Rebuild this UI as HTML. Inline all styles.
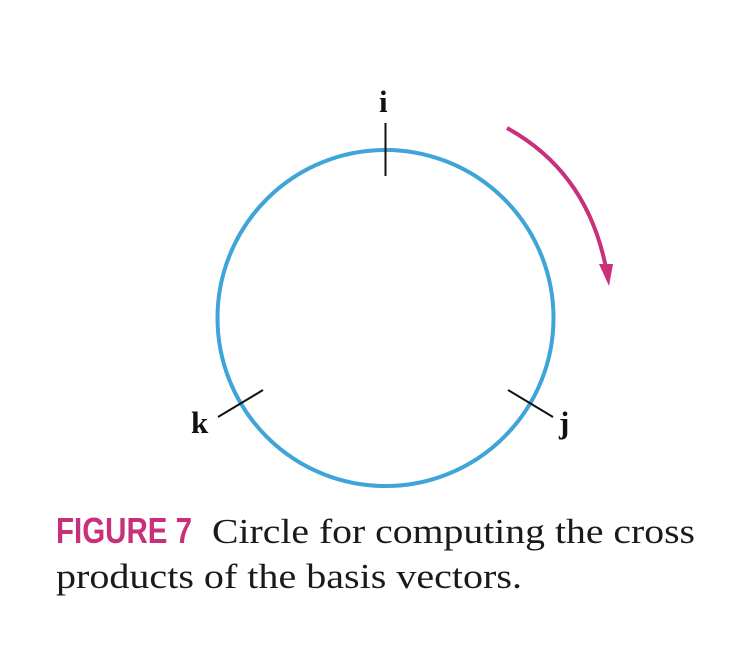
<!DOCTYPE html>
<html><head><meta charset="utf-8"><style>
html,body{margin:0;padding:0;background:#fff;width:742px;height:668px;overflow:hidden}
</style></head><body>
<svg width="742" height="668" viewBox="0 0 742 668" xmlns="http://www.w3.org/2000/svg">
<circle cx="385.5" cy="318" r="168" fill="none" stroke="#3fa4d8" stroke-width="4"/>
<line x1="385.5" y1="123" x2="385.5" y2="176" stroke="#111" stroke-width="2"/>
<line x1="218" y1="417" x2="263" y2="390" stroke="#111" stroke-width="2"/>
<line x1="508" y1="390" x2="553" y2="417" stroke="#111" stroke-width="2"/>
<path d="M507,128 Q587,172 606,268" fill="none" stroke="#c9307a" stroke-width="4"/>
<polygon points="599,264 613,264 609,286" fill="#c9307a"/>
<g font-family="'Liberation Serif',serif" font-weight="bold" fill="#111" font-size="31">
<text x="379" y="112">i</text>
<text x="191" y="433">k</text>
<text x="559" y="433">j</text>
</g>
<text x="56" y="543" font-family="'Liberation Sans Narrow','Liberation Sans',sans-serif" font-weight="bold" font-size="36" fill="#c9307a" textLength="136" lengthAdjust="spacingAndGlyphs">FIGURE 7</text>
<text x="212" y="543" font-family="'Liberation Serif',serif" font-size="35" fill="#1a1a1a" textLength="483" lengthAdjust="spacingAndGlyphs">Circle for computing the cross</text>
<text x="56" y="588" font-family="'Liberation Serif',serif" font-size="35" fill="#1a1a1a" textLength="466" lengthAdjust="spacingAndGlyphs">products of the basis vectors.</text>
</svg>
</body></html>
